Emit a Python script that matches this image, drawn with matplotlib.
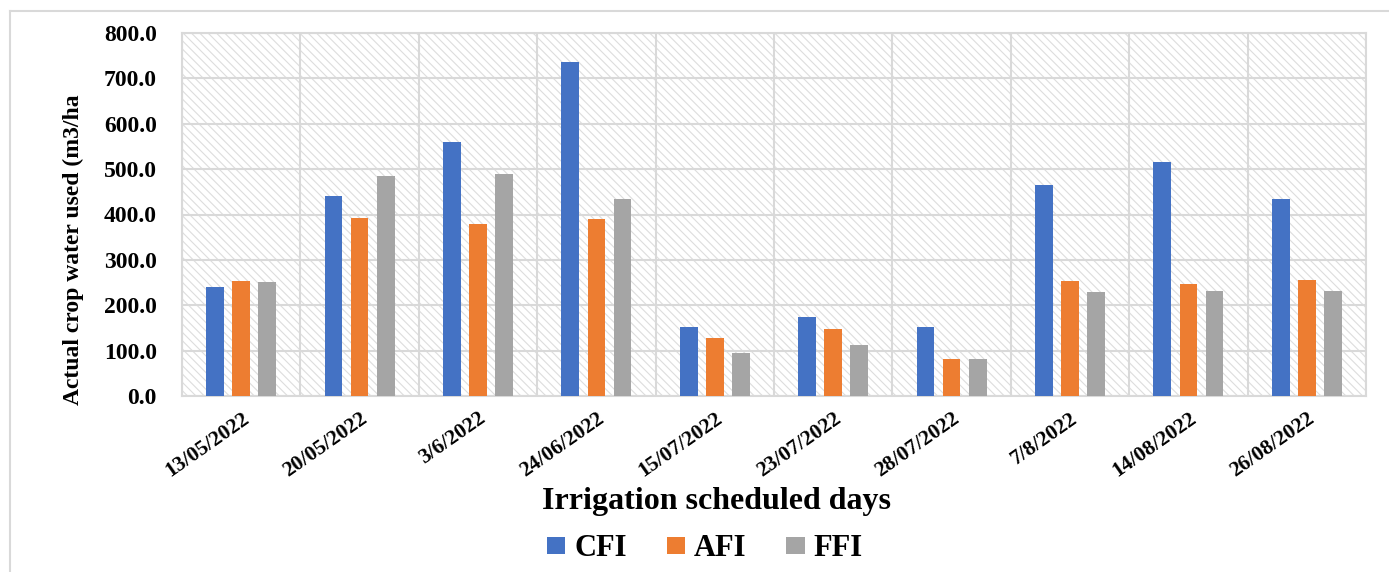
import matplotlib
matplotlib.use('Agg')
import matplotlib.pyplot as plt
from matplotlib.lines import Line2D
from matplotlib.patches import Rectangle
from matplotlib.ticker import FormatStrFormatter, MultipleLocator
import numpy as np

dates = ['13/05/2022', '20/05/2022', '3/6/2022', '24/06/2022', '15/07/2022',
         '23/07/2022', '28/07/2022', '7/8/2022', '14/08/2022', '26/08/2022']
cfi = [241, 440, 560, 736, 153, 175, 153, 465, 515, 434]
afi = [253, 392, 380, 390, 128, 148, 82, 254, 247, 256]
ffi = [251, 485, 489, 434, 95, 113, 81, 229, 232, 231]
series = {'CFI': cfi, 'AFI': afi, 'FFI': ffi}
colors = {'CFI': '#4472C4', 'AFI': '#ED7D31', 'FFI': '#A5A5A5'}

plt.rcParams['font.family'] = 'Liberation Serif'
plt.rcParams['font.weight'] = 'bold'
plt.rcParams['hatch.linewidth'] = 0.8

fig = plt.figure(figsize=(13.89, 5.72), dpi=100)
ax = fig.add_axes([182/1389, 1-396/572, 1184/1389, 363/572])

# hatched background
bg = Rectangle((0, 0), 1, 1, transform=ax.transAxes, facecolor='white',
               edgecolor='#dddddd', hatch='\\\\\\\\', linewidth=0, zorder=0)
ax.add_patch(bg)

x = np.arange(len(dates))
offsets = [-0.22, 0, 0.22]
for off, (name, vals) in zip(offsets, series.items()):
    ax.bar(x + off, vals, width=0.15, color=colors[name], label=name, zorder=3)

ax.set_xlim(-0.5, len(dates) - 0.5)
ax.set_ylim(0, 800)
ax.yaxis.set_major_locator(MultipleLocator(100))
ax.yaxis.set_major_formatter(FormatStrFormatter('%.1f'))
ax.set_xticks(x)
ax.set_xticks(np.arange(-0.5, len(dates), 1), minor=True)
ax.set_xticklabels(dates, rotation=35, ha='right', rotation_mode='anchor')
ax.tick_params(axis='both', which='both', length=0)
ax.tick_params(axis='y', labelsize=17, pad=18)
ax.tick_params(axis='x', labelsize=15.5, pad=9)
ax.grid(axis='y', which='major', color='#d9d9d9', linewidth=1.5, zorder=1)
ax.grid(axis='x', which='minor', color='#d9d9d9', linewidth=1.5, zorder=1)
ax.set_axisbelow(True)
for s in ax.spines.values():
    s.set_color('#d9d9d9')
    s.set_linewidth(1.5)

fig.text(73/1389, 1-250/572, 'Actual crop water used (m3/ha', rotation=90,
         ha='center', va='center', fontsize=17)
fig.text(717/1389, 1-501/572, 'Irrigation scheduled days',
         ha='center', va='center', fontsize=23)
fig.legend(loc='center', bbox_to_anchor=(705/1389, 1-549/572), ncol=3,
           frameon=False, fontsize=22, handlelength=0.6, handleheight=0.5,
           handletextpad=0.3, columnspacing=1.3)

# chart border
fig.add_artist(Line2D([10/1389, 10/1389], [0, 1-11/572], color='#d9d9d9', lw=1.5))
fig.add_artist(Line2D([10/1389, 1], [1-11/572, 1-11/572], color='#d9d9d9', lw=1.5))

fig.savefig('out.png', dpi=100)
